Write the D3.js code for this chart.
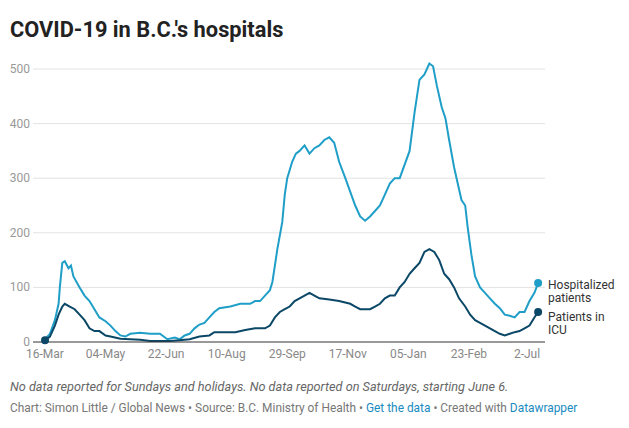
<!DOCTYPE html><html><head><meta charset="utf-8"><script src="https://cdn.jsdelivr.net/npm/d3@7"></script>
<style>body{margin:0;background:#fff;font-family:Roboto,sans-serif}</style></head><body><svg id="c" width="629" height="428"></svg>
<script>
const tickDays=[0,49,98,147,196,245,294,343,390];
const tickLabels=["16-Mar","04-May","22-Jun","10-Aug","29-Sep","17-Nov","05-Jan","23-Feb","2-Jul"];
const yTicks=[0,100,200,300,400,500];
const hospDays=[0,4,8,11,12,14,16,19,21,23,28,32,36,40,44,49,53,57,61,65,69,77,85,93,99,105,109,113,117,121,125,129,133,137,141,150,158,166,170,174,178,182,184,186,188,192,194,196,200,203,206,210,214,218,222,226,230,234,238,243,247,251,255,259,263,267,271,275,279,283,287,291,295,299,303,307,311,314,317,321,324,327,331,334,337,340,342,345,348,352,356,360,364,368,372,376,380,384,388,392,396,399];
const hospVals=[5,15,40,70,100,145,148,135,140,120,100,85,75,60,45,38,30,20,12,10,15,17,15,15,5,8,5,12,15,25,32,35,45,55,62,65,70,70,75,75,85,95,110,140,170,220,270,300,330,345,350,360,345,355,360,370,375,365,330,300,275,250,230,222,230,240,250,270,290,300,300,325,350,420,480,490,510,505,470,430,410,370,320,290,260,250,210,160,120,100,90,80,70,62,50,48,45,55,55,75,90,108];
const icuDays=[0,4,8,11,14,16,20,24,28,32,36,40,44,49,53,61,69,77,85,93,101,109,117,125,133,137,145,154,162,170,178,182,186,190,194,198,202,206,210,214,218,222,230,238,247,251,255,263,267,271,275,279,283,287,291,295,299,303,307,311,315,319,323,327,331,335,340,344,348,352,356,360,364,368,372,376,380,384,388,392,396,399];
const icuVals=[3,10,30,50,65,70,65,60,50,40,25,20,20,12,10,6,5,4,2,2,2,3,5,10,12,18,18,18,22,25,25,30,45,55,60,65,75,80,85,90,85,80,78,75,70,65,60,60,65,70,80,85,85,100,110,125,135,145,165,170,165,150,125,115,100,80,65,50,40,35,30,25,20,15,12,15,18,20,25,30,45,55];
const cL="#1f9ec8", cD="#0b4766";
const svg=d3.select("#c");
const x=d3.scaleLinear().domain([0,390]).range([45,527]);
const y=d3.scaleLinear().domain([0,500]).range([342,69]);
svg.append("text").attr("x",10).attr("y",37).attr("font-size",21.8).attr("font-weight",700).attr("fill","#222").text("COVID-19 in B.C.'s hospitals");
const g=svg.append("g");
yTicks.forEach(t=>{
 if(t>0) g.append("line").attr("x1",33).attr("x2",545).attr("y1",y(t)).attr("y2",y(t)).attr("stroke","#e3e3e3");
 g.append("text").attr("x",30).attr("y",y(t)+4).attr("text-anchor","end").attr("font-size",12).attr("fill","#999").text(t);
});
tickDays.forEach((d,i)=>g.append("text").attr("x",x(d)).attr("y",358).attr("text-anchor","middle").attr("font-size",12).attr("fill","#888").text(tickLabels[i]));
const line=d3.line().x(d=>x(d[0])).y(d=>y(d[1]));
const H=hospDays.map((d,i)=>[d,hospVals[i]]), I=icuDays.map((d,i)=>[d,icuVals[i]]);
g.append("path").attr("d",line(H)).attr("fill","none").attr("stroke",cL).attr("stroke-width",2);
g.append("path").attr("d",line(I)).attr("fill","none").attr("stroke",cD).attr("stroke-width",2);
g.append("line").attr("x1",33).attr("x2",545).attr("y1",y(0)).attr("y2",y(0)).attr("stroke","#333");
const hl=H[H.length-1], il=I[I.length-1];
g.append("circle").attr("cx",x(I[0][0])).attr("cy",y(I[0][1])).attr("r",4).attr("fill",cD);
g.append("circle").attr("cx",x(hl[0])).attr("cy",y(hl[1])).attr("r",4).attr("fill",cL);
g.append("circle").attr("cx",x(il[0])).attr("cy",y(il[1])).attr("r",4).attr("fill",cD);
[["Hospitalized",289],["patients",302],["Patients in",321],["ICU",334]].forEach(a=>g.append("text").attr("x",548).attr("y",a[1]).attr("font-size",12).attr("fill","#333").text(a[0]));
svg.append("text").attr("x",10).attr("y",391).attr("font-size",12.7).attr("font-style","italic").attr("fill","#666").text("No data reported for Sundays and holidays. No data reported on Saturdays, starting June 6.");
const s=svg.append("text").attr("x",10).attr("y",412).attr("font-size",11.9).attr("fill","#777");
s.append("tspan").text("Chart: Simon Little / Global News • Source: B.C. Ministry of Health • ");
s.append("tspan").attr("fill","#1a8bc0").text("Get the data");
s.append("tspan").text(" • Created with ");
s.append("tspan").attr("fill","#1a8bc0").text("Datawrapper");
</script></body></html>
